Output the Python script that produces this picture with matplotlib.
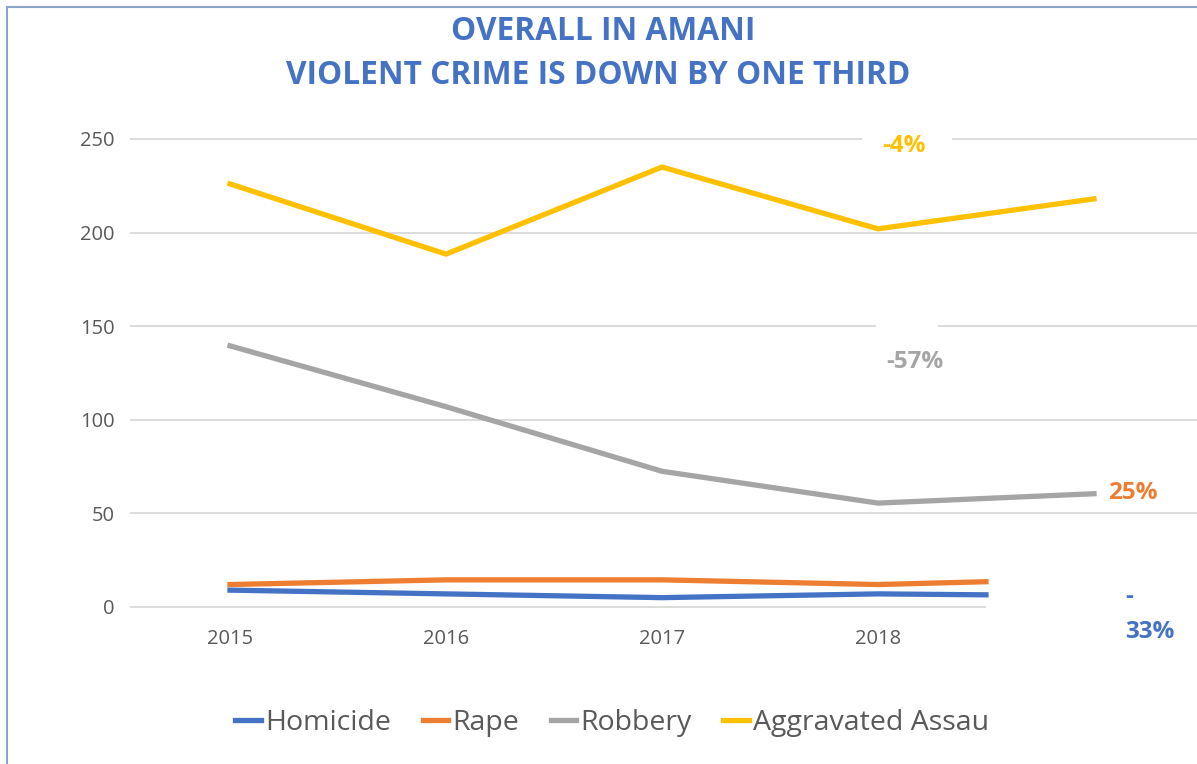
import matplotlib.pyplot as plt
from matplotlib.lines import Line2D
from matplotlib.patches import Rectangle

# crime counts per period (last point is the partial / current period)
years = ['2015', '2016', '2017', '2018']
homicide = [9, 7, 5, 7, 6.5]
rape = [12, 14.5, 14.5, 12, 13.5]
robbery = [139.5, 107, 72.5, 55.5, 60.5]
assault = [226, 188.5, 235, 202, 218]

x_long = [0, 1, 2, 3, 4]
x_short = [0, 1, 2, 3, 3.5]

BLUE = '#4472C4'
ORANGE = '#ED7D31'
GRAY = '#A5A5A5'
GOLD = '#FFC000'
TXT = '#595959'

plt.rcParams['font.family'] = ['Open Sans', 'DejaVu Sans']

fig = plt.figure(figsize=(11.97, 7.64), dpi=100)
ax = fig.add_axes([0.1086, 0.2055, 0.8914, 0.6126])
ax.set_xlim(-0.463, 4.477)
ax.set_ylim(0, 250)

# gridlines (the zero line stops short)
ax.hlines([50, 100, 150, 200, 250], -0.463, 4.477, color='#D9D9D9', lw=1.3, zorder=1, clip_on=False)
ax.hlines([0], -0.463, 3.5, color='#D9D9D9', lw=1.3, zorder=1, clip_on=False)

lw = 3.8
ax.plot(x_short, homicide, color=BLUE, lw=lw, label='Homicide', zorder=3, clip_on=False)
ax.plot(x_short, rape, color=ORANGE, lw=lw, label='Rape', zorder=3, clip_on=False)
ax.plot(x_long, robbery, color=GRAY, lw=lw, label='Robbery', zorder=3, clip_on=False)
ax.plot(x_long, assault, color=GOLD, lw=lw, label='Aggravated Assau', zorder=3, clip_on=False)

for s in ax.spines.values():
    s.set_visible(False)

ax.set_yticks([0, 50, 100, 150, 200, 250])
ax.set_xticks(range(len(years)))
ax.set_xticklabels(years)
ax.tick_params(axis='both', length=0, labelsize=14.5, labelcolor=TXT)
ax.tick_params(axis='y', pad=11)
ax.tick_params(axis='x', pad=16)

# label boxes that break the gridlines
ax.add_patch(Rectangle((2.926, 247), 0.417, 6, fc='white', ec='none', zorder=2, clip_on=False))
ax.add_patch(Rectangle((2.991, 147), 0.287, 6, fc='white', ec='none', zorder=2, clip_on=False))

lbl = dict(fontsize=17.5, fontweight='bold', ha='center', va='center', zorder=4, clip_on=False)
ax.text(3.12, 246, '-4%', color=GOLD, **lbl)
ax.text(3.17, 131, '-57%', color=GRAY, **lbl)
ax.text(4.18, 61, '25%', color=ORANGE, **lbl)
ax.text(4.145, 5.3, '-', color=BLUE, fontsize=17.5, fontweight='bold', ha='left', va='center', clip_on=False)
ax.text(4.145, -13.4, '33%', color=BLUE, fontsize=17.5, fontweight='bold', ha='left', va='center', clip_on=False)

fig.text(0.504, 1 - 31 / 764, 'OVERALL IN AMANI', color=BLUE, fontsize=22.8,
         fontweight='bold', ha='center', va='center')
fig.text(0.5, 1 - 75 / 764, 'VIOLENT CRIME IS DOWN BY ONE THIRD', color=BLUE, fontsize=22.8,
         fontweight='bold', ha='center', va='center')

leg = ax.legend(loc='center', bbox_to_anchor=(0.5115, 1 - 723 / 764), bbox_transform=fig.transFigure,
                ncol=4, frameon=False, fontsize=20.5, handlelength=0.9, handletextpad=0.15,
                columnspacing=1.1)
for t in leg.get_texts():
    t.set_color(TXT)

# chart frame: left and top edges
fig.add_artist(Line2D([7 / 1197, 7 / 1197], [0, 1 - 7 / 764], color='#8EA3C8', lw=1.5))
fig.add_artist(Line2D([7 / 1197, 1], [1 - 7 / 764, 1 - 7 / 764], color='#8EA3C8', lw=1.5))

fig.savefig('out.png', dpi=100)
